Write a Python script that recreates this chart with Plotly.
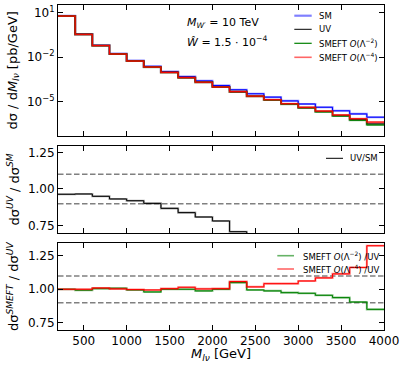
import plotly.graph_objects as go

# ---------------- data ----------------
bin_edges = [200, 400, 600, 800, 1000, 1200, 1400, 1600, 1800, 2000, 2200,
             2400, 2600, 2800, 3000, 3200, 3400, 3600, 3800, 4000]

sm = [6.17, 0.359, 0.0631, 0.01738, 5.96e-3, 2.40e-3, 1.072e-3, 4.90e-4, 2.51e-4,
      1.23e-4, 6.31e-5, 3.39e-5, 2.00e-5, 1.12e-5, 6.92e-6, 4.17e-6, 2.40e-6,
      1.48e-6, 8.9e-7]
uv = [5.95, 0.347, 0.0599, 0.0162, 5.48e-3, 2.16e-3, 9.30e-4, 4.11e-4, 2.03e-4,
      9.62e-5, 4.47e-5, 2.31e-5, 1.30e-5, 6.94e-6, 3.88e-6, 2.13e-6, 1.13e-6,
      6.07e-7, 3.12e-7]
smeft2 = [5.95, 0.345, 0.0602, 0.0163, 5.45e-3, 2.12e-3, 9.30e-4, 4.11e-4, 2.01e-4,
          9.62e-5, 4.69e-5, 2.30e-5, 1.28e-5, 6.77e-6, 3.76e-6, 2.03e-6, 1.06e-6,
          5.49e-7, 2.65e-7]
smeft4 = [5.95, 0.347, 0.0605, 0.01625, 5.47e-3, 2.15e-3, 9.35e-4, 4.17e-4, 2.04e-4,
          9.67e-5, 4.73e-5, 2.35e-5, 1.35e-5, 7.23e-6, 4.12e-6, 2.31e-6, 1.26e-6,
          7.06e-7, 4.13e-7]

uv_over_sm = [0.964, 0.966, 0.950, 0.932, 0.920, 0.902, 0.868, 0.839, 0.809, 0.782,
              0.709, 0.68, 0.65, 0.62, 0.56, 0.51, 0.47, 0.41, 0.35]
smeft2_over_uv = [1.000, 0.993, 1.005, 1.008, 0.995, 0.980, 1.000, 1.000, 0.988, 1.000,
                  1.050, 0.995, 0.988, 0.975, 0.970, 0.955, 0.938, 0.905, 0.850]
smeft4_over_uv = [1.000, 1.000, 1.010, 1.003, 0.998, 0.995, 1.005, 1.015, 1.003, 1.005,
                  1.058, 1.018, 1.042, 1.042, 1.062, 1.085, 1.115, 1.163, 1.325]

x_ticks = [500, 1000, 1500, 2000, 2500, 3000, 3500, 4000]
top_ticks = [10, 1e-2, 1e-5]
top_tick_text = ["10<sup>1</sup>", "10<sup>−2</sup>", "10<sup>−5</sup>"]
ratio_ticks = [0.75, 1.00, 1.25]
ratio_tick_text = ["0.75", "1.00", "1.25"]

# ---------------- layout helpers ----------------
W, H = 407, 369
ML, MR, MT, MB = 58, 23, 5, 39
PW, PH = W - ML - MR, H - MT - MB
FONT = "DejaVu Sans"


def px(xp):
    return (xp - ML) / PW


def py(yp):
    return (H - MB - yp) / PH


def step(vals):
    return list(vals) + [vals[-1]]


fig = go.Figure()


def add_step(vals, color, halo, xa, ya, core_w=1.0, halo_w=2.1):
    fig.add_trace(go.Scatter(x=bin_edges, y=step(vals), mode="lines", line_shape="hv",
                             line=dict(color=halo, width=halo_w), xaxis=xa, yaxis=ya,
                             showlegend=False, hoverinfo="skip"))
    fig.add_trace(go.Scatter(x=bin_edges, y=step(vals), mode="lines", line_shape="hv",
                             line=dict(color=color, width=core_w), xaxis=xa, yaxis=ya,
                             showlegend=False))


# top panel
add_step(sm, "rgb(0,0,255)", "rgba(0,0,255,0.45)", "x", "y")
add_step(uv, "black", "rgba(0,0,0,0.35)", "x", "y")
add_step(smeft2, "rgb(0,128,0)", "rgba(0,128,0,0.45)", "x", "y")
add_step(smeft4, "rgb(255,0,0)", "rgba(255,0,0,0.45)", "x", "y")
# middle panel
add_step(uv_over_sm, "black", "rgba(0,0,0,0.35)", "x2", "y2")
# bottom panel
add_step(smeft2_over_uv, "rgb(0,128,0)", "rgba(0,128,0,0.45)", "x3", "y3")
add_step(smeft4_over_uv, "rgb(255,0,0)", "rgba(255,0,0,0.45)", "x3", "y3")

dom_top = [py(136), 1.0]
dom_mid = [py(233), py(146)]
dom_bot = [py(329.5), py(243.3)]

axis_common = dict(showline=True, linecolor="black", linewidth=1, mirror="allticks",
                   ticks="inside", ticklen=5, tickwidth=1, tickcolor="black",
                   showgrid=False, zeroline=False, ticklabeloverflow="allow",
                   tickfont=dict(family=FONT, size=12, color="black"))

xcommon = dict(axis_common, range=[200, 4000], tickvals=x_ticks)

fig.update_layout(
    width=W, height=H,
    margin=dict(l=ML, r=MR, t=MT, b=MB),
    paper_bgcolor="white", plot_bgcolor="white",
    showlegend=False,
    font=dict(family=FONT, size=12, color="black"),
    xaxis=dict(xcommon, anchor="y", showticklabels=False),
    xaxis2=dict(xcommon, anchor="y2", matches="x", showticklabels=False),
    xaxis3=dict(xcommon, anchor="y3", matches="x",
                ticktext=[str(v) for v in x_ticks]),
    yaxis=dict(axis_common, type="log", range=[-7.32, 1.52], domain=dom_top,
               tickvals=top_ticks, ticktext=top_tick_text, anchor="x"),
    yaxis2=dict(axis_common, range=[0.70, 1.293], domain=dom_mid,
                tickvals=ratio_ticks, ticktext=ratio_tick_text, anchor="x2"),
    yaxis3=dict(axis_common, range=[0.70, 1.343], domain=dom_bot,
                tickvals=ratio_ticks, ticktext=ratio_tick_text, anchor="x3"),
)

# dashed reference lines
for xr, ya in [("x2 domain", "y2"), ("x3 domain", "y3")]:
    for v in [0.9, 1.1]:
        fig.add_shape(type="line", xref=xr, yref=ya, x0=0, x1=1, y0=v, y1=v,
                      line=dict(color="rgb(128,128,128)", width=1.5, dash="5.5px,2.5px"),
                      layer="below")

annotations = []


def text(xp, yp, s, size, xanchor="left", angle=0):
    annotations.append(dict(x=px(xp), y=py(yp), xref="paper", yref="paper", text=s,
                            showarrow=False, xanchor=xanchor, yanchor="middle",
                            textangle=angle,
                            font=dict(family=FONT, size=size, color="black")))


def legend_line(x0, x1, yp, color, width):
    fig.add_shape(type="line", xref="paper", yref="paper", x0=px(x0), x1=px(x1),
                  y0=py(yp), y1=py(yp), line=dict(color=color, width=width))


# axis titles
text(13, 70.5, "dσ / d<i>M</i><sub><i>lν</i></sub> [pb/GeV]", 13, "center", -90)
text(13, 189.5, "dσ<sup><i>UV</i></sup> / dσ<sup><i>SM</i></sup>", 13, "center", -90)
text(13, 287, "dσ<sup><i>SMEFT</i></sup> / dσ<sup><i>UV</i></sup>", 13, "center", -90)
text(221, 354, "<i>M</i><sub><i>lν</i></sub> [GeV]", 13, "center")

# physics annotations
text(185, 23, "<i>M</i><sub><i>W′</i></sub> = 10 TeV", 11)
text(185, 42, "<i>Ŵ</i> = 1.5 · 10<sup>−4</sup>", 11)

# top legend
leg_top = [("SM", "rgba(0,0,255,0.5)", 2.2, 15.7),
           ("UV", "black", 1.0, 29.3),
           ("SMEFT <i>O</i>(Λ<sup>−2</sup>)", "rgb(0,128,0)", 1.2, 43.3),
           ("SMEFT <i>O</i>(Λ<sup>−4</sup>)", "rgba(255,0,0,0.6)", 1.6, 57.3)]
for label, col, w, yy in leg_top:
    legend_line(294.3, 311.7, yy, col, w)
    text(316.5, yy, label, 8.5)

# middle legend
legend_line(326, 343, 158.3, "black", 1.0)
text(347.5, 158.3, "UV/SM", 8.5)

# bottom legend
legend_line(277.3, 294, 255.7, "rgba(0,128,0,0.6)", 1.6)
text(300.5, 255.7, "SMEFT <i>O</i>(Λ<sup>−2</sup>) /UV", 8.5)
legend_line(277.3, 294, 269, "rgba(255,0,0,0.8)", 1.2)
text(300.5, 269, "SMEFT <i>O</i>(Λ<sup>−4</sup>) /UV", 8.5)

fig.update_layout(annotations=annotations)

fig.write_html("out.html",
               config={"displayModeBar": False},
               post_script="document.body.style.margin='0';"
                           "document.body.style.overflow='hidden';")
